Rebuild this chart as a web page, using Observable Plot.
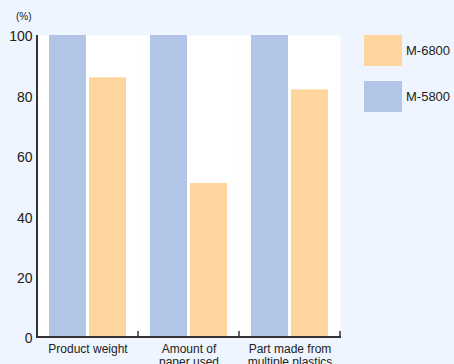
<!DOCTYPE html>
<html>
<head>
<meta charset="utf-8">
<script src="https://cdn.jsdelivr.net/npm/d3@7"></script>
<script src="https://cdn.jsdelivr.net/npm/@observablehq/plot@0.6"></script>
<style>
  html, body { margin: 0; padding: 0; background: #eef5fe; overflow: hidden; }
  #wrap { position: relative; width: 454px; height: 364px; font-family: "Liberation Sans", Arial, sans-serif; color: #222; }
  #unit { position: absolute; left: 16px; top: 11px; font-size: 10px; }
  #legend { position: absolute; left: 364px; top: 35px; }
  .item { display: flex; align-items: center; height: 31px; margin-bottom: 15px; font-size: 13px; }
  .sw { width: 38px; height: 31px; margin-right: 4px; }
</style>
</head>
<body>
<div id="wrap">
  <div id="unit">(%)</div>
  <div id="legend"></div>
</div>
<script>
const categories = ["Product weight", "Amount of paper used", "Part made from multiple plastics"];
const categoryLabels = ["Product weight", "Amount of\npaper used", "Part made from\nmultiple plastics"];
const models = ["M-5800", "M-6800"];
const m5800 = [100, 100, 100];
const m6800 = [86, 51, 82];
const colors = ["#b3c5e6", "#fed59c"];
const yTicks = [0, 20, 40, 60, 80, 100];
const legendOrder = ["M-6800", "M-5800"];

const data = categories.flatMap((c, i) => [
  {cat: c, model: models[0], value: m5800[i]},
  {cat: c, model: models[1], value: m6800[i]}
]);

const plot = Plot.plot({
  width: 454, height: 364,
  marginLeft: 37, marginRight: 114, marginTop: 35, marginBottom: 27,
  style: {background: "transparent", fontFamily: "'Liberation Sans', Arial, sans-serif", color: "#222", overflow: "visible"},
  fx: {domain: categories, padding: 0, label: null},
  x: {domain: models, paddingInner: 0.075, paddingOuter: 0.3, axis: null},
  y: {domain: [0, 100], label: null},
  color: {domain: models, range: colors},
  marks: [
    Plot.frame({fill: "white", stroke: null}),
    Plot.barY(data, {fx: "cat", x: "model", y: "value", fill: "model"}),
    Plot.axisY({ticks: yTicks, tickSize: 0, tickPadding: 5, label: null, fontSize: 14, dy: 1.5}),
    Plot.axisFx({anchor: "bottom", tickSize: 0, tickPadding: 6, label: null, fontSize: 12, lineHeight: 1.08,
      tickFormat: (d) => categoryLabels[categories.indexOf(d)]})
  ]
});

const wrap = document.getElementById("wrap");
wrap.insertBefore(plot, wrap.firstChild);
plot.style.position = "absolute";
plot.style.left = "0px";
plot.style.top = "0px";

// axis lines and boundary ticks, from Plot's scales
const fx = plot.scale("fx"), y = plot.scale("y");
const svg = d3.select(plot);
const y0 = y.apply(0), y100 = y.apply(100);
const left = fx.apply(categories[0]);
const right = fx.apply(categories[categories.length - 1]) + fx.bandwidth;
const g = svg.append("g").attr("stroke", "#333").attr("fill", "none");
g.append("line").attr("x1", left).attr("x2", left).attr("y1", y100).attr("y2", y0 + 1).attr("stroke-width", 2);
g.append("line").attr("x1", left).attr("x2", right + 1).attr("y1", y0).attr("y2", y0).attr("stroke-width", 2);
categories.forEach(c => {
  const xb = fx.apply(c) + fx.bandwidth;
  g.append("line").attr("x1", xb).attr("x2", xb).attr("y1", y0).attr("y2", y0 - 6).attr("stroke-width", 1.5);
});

// legend
const legend = d3.select("#legend");
legendOrder.forEach(m => {
  const it = legend.append("div").attr("class", "item");
  it.append("div").attr("class", "sw").style("background", colors[models.indexOf(m)]);
  it.append("span").text(m);
});
</script>
</body>
</html>
